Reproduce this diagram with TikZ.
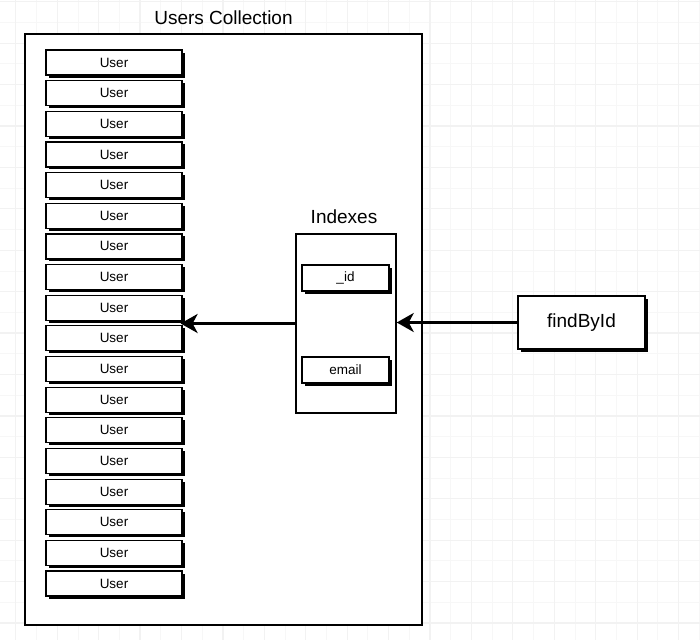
\documentclass[tikz,border=0pt]{standalone}
\usepackage{fontspec}
\setmainfont{Liberation Sans}
\usepackage{tikz}
\usetikzlibrary{arrows.meta,positioning,calc,shadows}

\begin{document}
\begin{tikzpicture}[
  x=1pt, y=-1pt,
  minor/.style={draw=black!3, line width=0.8pt},
  major/.style={draw=black!5, line width=1.2pt},
  frame/.style={draw, line width=2pt, fill=white},
  card/.style={draw, line width=1.2pt, fill=white, inner sep=0pt,
    general shadow={shadow xshift=2.5pt, shadow yshift=-2.5pt, fill=black}},
  userbox/.style={card, minimum width=136pt, minimum height=25pt, font=\fontsize{13.5}{15}\selectfont},
  keybox/.style={card, minimum width=87pt, minimum height=26pt, font=\fontsize{13.5}{15}\selectfont},
  title/.style={font=\fontsize{19}{22}\selectfont},
  arr/.style={-{Stealth[length=17pt, width=19pt, inset=5pt]}, line width=3.5pt}
]
  \useasboundingbox (0,0) rectangle (700,640);
  % background grid
  \foreach \k in {-1,...,33} {
    \draw[minor] (15.8+20.71*\k,0) -- ++(0,640);
    \draw[minor] (0,1.7+20.71*\k) -- ++(700,0);
  }
  \foreach \k in {-1,...,17} {
    \draw[major] (15.8+41.42*\k,0) -- ++(0,640);
    \draw[major] (0,1.7+41.42*\k) -- ++(700,0);
  }

  % collection
  \node[title] (coltitle) at (223.5,18) {Users Collection};
  \node[frame, minimum width=397pt, minimum height=591pt] (coll) at (223.5,329.5) {};
  \foreach \i in {1,...,18}
    \node[userbox] (u\i) at (114,{62.5+30.65*(\i-1)}) {User};

  % indexes
  \node[title] (idxtitle) at (344,217) {Indexes};
  \node[frame, line width=1.5pt, minimum width=100pt, minimum height=179pt] (idx) at (346,323.5) {};
  \node[keybox] (kid) at (345.5,278) {\_id};
  \node[keybox] (kmail) at (345.5,370) {email};

  % query
  \node[card, line width=1.2pt, minimum width=127pt, minimum height=53pt, title] (fbi) at (581.5,322.5) {findById};

  \draw[arr] (fbi.west) -- (fbi.west -| idx.east);
  \draw[arr, shorten >=-2pt] (idx.west) -- (idx.west -| u9.east);
\end{tikzpicture}
\end{document}
